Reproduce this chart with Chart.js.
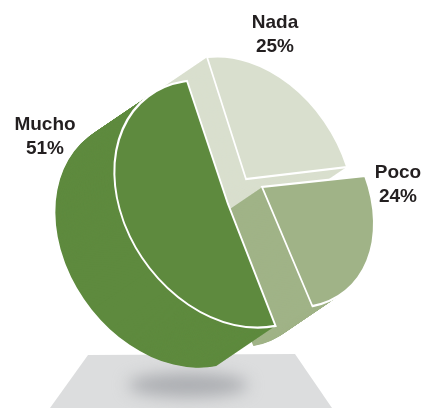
<!DOCTYPE html>
<html>
<head>
<meta charset="utf-8">
<script src="https://cdn.jsdelivr.net/npm/chart.js@4"></script>
<style>
  html, body { margin: 0; padding: 0; background: #fff; }
  canvas { display: block; }
</style>
</head>
<body>
<canvas id="pieChart" width="424" height="408"></canvas>
<script>
const categories = ["Nada", "Poco", "Mucho"];
const percents = [25, 24, 51];
const sliceColors = ["#d9dfce", "#a0b387", "#5e8a3e"];

// where each slice sits: tip of the wedge, then the images of the circle's x and y radii
const frames = [
  { tip: [246, 179], right: [101, -12], down: [39, 122] },
  { tip: [262, 187], right: [103, -11], down: [44, 120] },
  { tip: [228, 204], right: [106, -13], down: [41, 123] }
];
const depth = [-59, 40];
const depthSteps = 80;

const labelSpots = [[275, 23], [398, 173], [45, 125]];

function drawFloor(ctx) {
  ctx.save();
  ctx.fillStyle = "#dcddde";
  ctx.beginPath();
  ctx.moveTo(88, 355);
  ctx.lineTo(295, 354);
  ctx.lineTo(332, 408);
  ctx.lineTo(50, 408);
  ctx.closePath();
  ctx.fill();
  ctx.filter = "blur(8px)";
  ctx.fillStyle = "#abadb1";
  ctx.beginPath();
  ctx.ellipse(188, 385, 60, 12, 0, 0, Math.PI * 2);
  ctx.fill();
  ctx.restore();
}

function placeSlice(ctx, arc, frame, shift) {
  const R = arc.outerRadius;
  ctx.translate(frame.tip[0] + shift[0], frame.tip[1] + shift[1]);
  ctx.transform(frame.right[0] / R, frame.right[1] / R, frame.down[0] / R, frame.down[1] / R, 0, 0);
  ctx.translate(-arc.x, -arc.y);
}

const tiltedPie = {
  id: "tiltedPie",
  beforeDatasetDraw(chart, args) {
    const ctx = chart.ctx;
    drawFloor(ctx);
    args.meta.data.forEach((arc, i) => {
      const frame = frames[i];
      const faceOptions = arc.options;
      // side wall: the same wedge stacked back along the depth direction
      arc.options = Object.assign({}, faceOptions, { borderWidth: 0 });
      for (let s = depthSteps; s > 0; s--) {
        ctx.save();
        placeSlice(ctx, arc, frame, [depth[0] * s / depthSteps, depth[1] * s / depthSteps]);
        arc.draw(ctx);
        ctx.restore();
      }
      arc.options = faceOptions;
      ctx.save();
      placeSlice(ctx, arc, frame, [0, 0]);
      arc.draw(ctx);
      ctx.restore();
    });
    return false;
  },
  afterDraw(chart) {
    const ctx = chart.ctx;
    ctx.save();
    ctx.fillStyle = "#231f20";
    ctx.font = "bold 19px 'Liberation Sans', Arial, sans-serif";
    ctx.textAlign = "center";
    ctx.textBaseline = "middle";
    categories.forEach((name, i) => {
      const [x, y] = labelSpots[i];
      ctx.fillText(name, x, y);
      ctx.fillText(percents[i] + "%", x, y + 24);
    });
    ctx.restore();
  }
};

new Chart(document.getElementById("pieChart"), {
  type: "pie",
  data: {
    labels: categories,
    datasets: [{
      data: percents,
      backgroundColor: sliceColors,
      borderColor: "#ffffff",
      borderWidth: 3.6,
      borderJoinStyle: "miter"
    }]
  },
  options: {
    responsive: false,
    animation: false,
    plugins: {
      legend: { display: false },
      tooltip: { enabled: false }
    }
  },
  plugins: [tiltedPie]
});
</script>
</body>
</html>
